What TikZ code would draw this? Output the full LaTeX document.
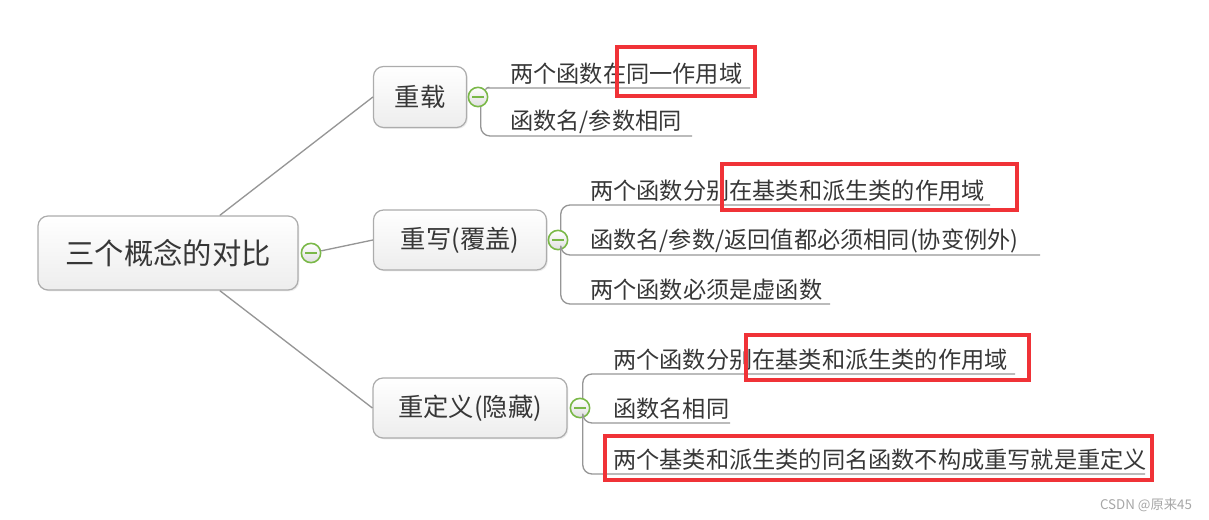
\documentclass[tikz,border=0pt]{standalone}
\usepackage{fontspec}
\setmainfont{Noto Sans CJK SC}
\usetikzlibrary{shadows}
\definecolor{mmgreen}{RGB}{122,184,72}
\definecolor{mmline}{RGB}{150,150,150}
\definecolor{mmred}{RGB}{240,50,55}
\definecolor{mmtext}{RGB}{55,55,55}
\begin{document}
\begin{tikzpicture}[x=0.75pt,y=-0.75pt,
  topicbox/.style={draw=gray!65, line width=0.9pt, rounded corners=7.5pt,
    top color=white, bottom color=gray!14, text=mmtext, inner sep=0pt,
    drop shadow={opacity=0.15, shadow xshift=1pt, shadow yshift=-1pt}},
  collapse/.style={circle, draw=mmgreen, line width=1.2pt, minimum size=14.5pt,
    inner sep=0pt, top color=white, bottom color=gray!25},
  conn/.style={draw=mmline, line width=1pt},
  uline/.style={draw=mmline, line width=1pt, rounded corners=7pt},
  leaf/.style={anchor=west, inner sep=0pt, text=mmtext, font=\fontsize{17.4pt}{20pt}\selectfont},
  redbox/.style={draw=mmred, line width=3pt}
]
\useasboundingbox (0,0) rectangle (1209,520);
% root
\node[topicbox, minimum width=195pt, minimum height=55.5pt, font=\fontsize{22pt}{26pt}\selectfont] (root) at (168,253) {三个概念的对比};
% branches
\node[topicbox, minimum width=69.75pt, minimum height=45.75pt, font=\fontsize{19pt}{22pt}\selectfont] (b1) at (420,97) {重载};
\node[topicbox, minimum width=129.75pt, minimum height=45pt, font=\fontsize{19pt}{22pt}\selectfont] (b2) at (460,240) {重写(覆盖)};
\node[topicbox, minimum width=145.5pt, minimum height=45pt, font=\fontsize{19pt}{22pt}\selectfont] (b3) at (470,408) {重定义(隐藏)};
% root connectors
\node[collapse] (c0) at (311,253) {};
\draw[conn] (root.36.5) -- (b1.west);
\draw[conn] (c0) -- (b2.west);
\draw[conn] (root.-36.5) -- (b3.west);
% collapse buttons
\node[collapse] (c1) at (478,97) {};
\node[collapse] (c2) at (558,240) {};
\node[collapse] (c3) at (580,408) {};
\foreach \c in {c0,c1,c2,c3}{
  \draw[mmgreen, line width=1.3pt] ([xshift=-4.5pt]\c.center) -- ([xshift=4.5pt]\c.center);
}
% underline end coordinates
\coordinate (u11) at (750,88);
\coordinate (u12) at (692,136);
\coordinate (u21) at (990,205);
\coordinate (u22) at (1040,255);
\coordinate (u23) at (830,304);
\coordinate (u31) at (1015,374);
\coordinate (u32) at (730,423);
\coordinate (u33) at (1145,474);
% 重载 children
\draw[uline] (c1.north east) to[out=60,in=180] (496,88) -- (u11);
\draw[uline] (c1.-75) |- (u12);
% 重写 children
\draw[uline] (c2.75) |- (u21);
\draw[uline] (c2.-75) |- (u22);
\draw[uline] (c2.-75) |- (u23);
% 重定义 children
\draw[uline] (c3.75) |- (u31);
\draw[uline] (c3.-75) |- (u32);
\draw[uline] (c3.-75) |- (u33);
% leaf texts
\node[leaf] (l11) at (510,74) {两个函数在同一作用域};
\node[leaf] (l12) at (510,122) {函数名/参数相同};
\node[leaf] (l21) at (590,191) {两个函数分别在基类和派生类的作用域};
\node[leaf] (l22) at (590,241) {函数名/参数/返回值都必须相同(协变例外)};
\node[leaf] (l23) at (590,290) {两个函数必须是虚函数};
\node[leaf] (l31) at (613,360) {两个函数分别在基类和派生类的作用域};
\node[leaf] (l32) at (613,409) {函数名相同};
\node[leaf] (l33) at (613,460) {两个基类和派生类的同名函数不构成重写就是重定义};
% red highlight boxes
\draw[redbox] (617,47) rectangle (755,96);
\draw[redbox] (722,164) rectangle (1017,210);
\draw[redbox] (746,335) rectangle (1029,380);
\draw[redbox] (605,436) rectangle (1152,480);
% watermark
\node[text=gray!70, font=\fontsize{10pt}{12pt}\selectfont, inner sep=0pt] (wm) at (1146,505) {CSDN @原来45};
\end{tikzpicture}
\end{document}
